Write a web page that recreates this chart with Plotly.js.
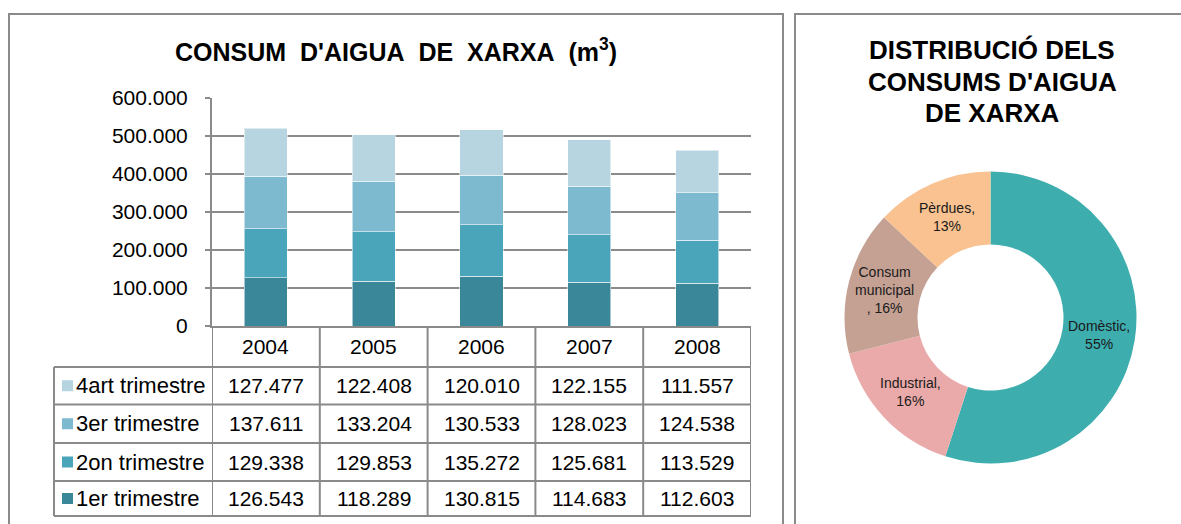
<!DOCTYPE html>
<html>
<head>
<meta charset="utf-8">
<script src="https://cdn.plot.ly/plotly-3.0.1.min.js"></script>
<style>html,body{margin:0;padding:0;background:#fff}#chart{width:1181px;height:524px}</style>
</head>
<body>
<div id="chart"></div>
<script>
// ---- data ----
const years = ['2004', '2005', '2006', '2007', '2008'];
const q1 = [126543, 118289, 130815, 114683, 112603];
const q2 = [129338, 129853, 135272, 125681, 113529];
const q3 = [137611, 133204, 130533, 128023, 124538];
const q4 = [127477, 122408, 120010, 122155, 111557];
const seriesNames = ['1er trimestre', '2on trimestre', '3er trimestre', '4art trimestre'];
const seriesColors = ['#3A879A', '#4AA5BB', '#7DB9CF', '#B6D5E0'];
const barTitle = "CONSUM\u00A0 D'AIGUA\u00A0 DE\u00A0 XARXA\u00A0 (m<sup>3</sup>)";

const pieLabels = ['Domèstic', 'Industrial', 'Consum municipal', 'Pèrdues'];
const pieText = ['Domèstic,<br>55%', 'Industrial,<br>16%', 'Consum<br>municipal<br>, 16%', 'Pèrdues,<br>13%'];
const pieValues = [55, 16, 16, 13];
const pieColors = ['#3DADAE', '#EAAAA9', '#C5A193', '#F9C290'];
const pieTitleLines = ['DISTRIBUCIÓ DELS', "CONSUMS D'AIGUA", 'DE XARXA'];

// ---- helpers ----
const W = 1181, H = 524;
const px = x => x / W;
const py = y => 1 - y / H;
const fmt = n => String(n).replace(/\B(?=(\d{3})+(?!\d))/g, '.');
const FONT = 'Liberation Sans, Arial, sans-serif';
const LINE = '#8A8A8A';

const series = [q1, q2, q3, q4];
const traces = series.map((vals, s) => ({
  type: 'bar', x: years, y: vals, name: seriesNames[s],
  marker: {color: seriesColors[s], line: {color: 'rgba(255,255,255,0.55)', width: 1}},
  xaxis: 'x', yaxis: 'y', hoverinfo: 'x+y+name'
}));

// pie geometry
const pcx = 990.5, pcy = 317.5, pr = 146, hole = 0.5;
traces.push({
  type: 'pie', labels: pieLabels, values: pieValues,
  textinfo: 'none',
  marker: {colors: pieColors, line: {width: 0}},
  hole: hole, sort: false, direction: 'clockwise', rotation: 0,
  domain: {x: [px(pcx - pr), px(pcx + pr)], y: [py(pcy + pr), py(pcy - pr)]},
  showlegend: false
});

// table geometry (pixels)
const rowEdges = [326, 367, 404.5, 443, 481, 516];
const tableLeft = 54, tableRight = 751;

const shapes = [];
const annotations = [];

// panel borders
shapes.push({type: 'rect', xref: 'paper', yref: 'paper', x0: px(9), x1: px(783), y0: py(14), y1: py(600), line: {color: LINE, width: 2}});
shapes.push({type: 'rect', xref: 'paper', yref: 'paper', x0: px(795), x1: px(1200), y0: py(14), y1: py(600), line: {color: LINE, width: 2}});

// table vertical lines at category boundaries
for (let k = 0; k <= years.length; k++) {
  shapes.push({type: 'line', xref: 'x', yref: 'paper', x0: k - 0.5, x1: k - 0.5, y0: py(rowEdges[0]), y1: py(rowEdges[5]), line: {color: LINE, width: 2}});
}
shapes.push({type: 'line', xref: 'paper', yref: 'paper', x0: px(tableLeft), x1: px(tableLeft), y0: py(rowEdges[1]), y1: py(rowEdges[5]), line: {color: LINE, width: 2}});
for (let r = 1; r < rowEdges.length; r++) {
  shapes.push({type: 'line', xref: 'paper', yref: 'paper', x0: px(tableLeft), x1: px(tableRight), y0: py(rowEdges[r]), y1: py(rowEdges[r]), line: {color: LINE, width: 2}});
}

// year header
years.forEach((yr, i) => {
  annotations.push({xref: 'x', yref: 'paper', x: i, y: py((rowEdges[0] + rowEdges[1]) / 2), text: yr, showarrow: false, xanchor: 'center', yanchor: 'middle', font: {family: FONT, size: 21, color: '#000'}});
});
// rows: top-down 4art, 3er, 2on, 1er
for (let r = 0; r < 4; r++) {
  const s = 3 - r;
  const yc = (rowEdges[r + 1] + rowEdges[r + 2]) / 2;
  shapes.push({type: 'rect', xref: 'paper', yref: 'paper', x0: px(62), x1: px(73), y0: py(yc + 5.5), y1: py(yc - 5.5), fillcolor: seriesColors[s], line: {width: 0}});
  annotations.push({xref: 'paper', yref: 'paper', x: px(74), y: py(yc), text: seriesNames[s], showarrow: false, xanchor: 'left', yanchor: 'middle', font: {family: FONT, size: 22, color: '#000'}});
  series[s].forEach((v, i) => {
    annotations.push({xref: 'x', yref: 'paper', x: i, y: py(yc), text: fmt(v), showarrow: false, xanchor: 'center', yanchor: 'middle', font: {family: FONT, size: 21, color: '#000'}});
  });
}

// pie labels: at the middle of the ring, at each slice's mid angle
const total = pieValues.reduce((a, b) => a + b, 0);
const rMid = pr * (1 + hole) / 2;
let cum = 0;
pieValues.forEach((v, i) => {
  const mid = (cum + v / 2) / total * 2 * Math.PI; // clockwise from 12 o'clock
  cum += v;
  const x = pcx + rMid * Math.sin(mid);
  const y = pcy - rMid * Math.cos(mid);
  annotations.push({xref: 'paper', yref: 'paper', x: px(x), y: py(y), text: pieText[i], showarrow: false, xanchor: 'center', yanchor: 'middle', align: 'center', font: {family: FONT, size: 14, color: '#1a1a1a'}});
});

// pie title
const titleY = [50, 82, 113];
pieTitleLines.forEach((t, i) => {
  annotations.push({xref: 'paper', yref: 'paper', x: px(992), y: py(titleY[i]), text: t, showarrow: false, xanchor: 'center', yanchor: 'middle', font: {family: FONT, size: 26, color: '#000', weight: 700}});
});

const layout = {
  width: W, height: H,
  margin: {l: 0, r: 0, t: 0, b: 0},
  paper_bgcolor: '#fff', plot_bgcolor: '#fff',
  separators: ',.',
  showlegend: false,
  barmode: 'stack', bargap: 0.6,
  title: {text: barTitle, x: px(396), xanchor: 'center', y: py(52), yanchor: 'middle', xref: 'paper', yref: 'paper',
          font: {family: FONT, size: 25, color: '#000', weight: 700}},
  xaxis: {domain: [px(212), px(751)], type: 'category', range: [-0.5, 4.5], showticklabels: false, ticks: '',
          showline: true, linecolor: LINE, linewidth: 2, showgrid: false, zeroline: false, fixedrange: true},
  yaxis: {domain: [py(326), py(98)], range: [0, 600000], dtick: 100000, tickformat: ',d',
          showline: true, linecolor: LINE, linewidth: 2, ticks: 'outside', ticklen: 5, tickwidth: 1.5, tickcolor: LINE,
          showgrid: true, gridcolor: LINE, gridwidth: 1.5, zeroline: false, ticklabelstandoff: 13,
          tickfont: {family: FONT, size: 21, color: '#000'}, fixedrange: true},
  shapes: shapes,
  annotations: annotations,
  font: {family: FONT}
};

Plotly.newPlot('chart', traces, layout, {staticPlot: true, displayModeBar: false});
</script>
</body>
</html>
